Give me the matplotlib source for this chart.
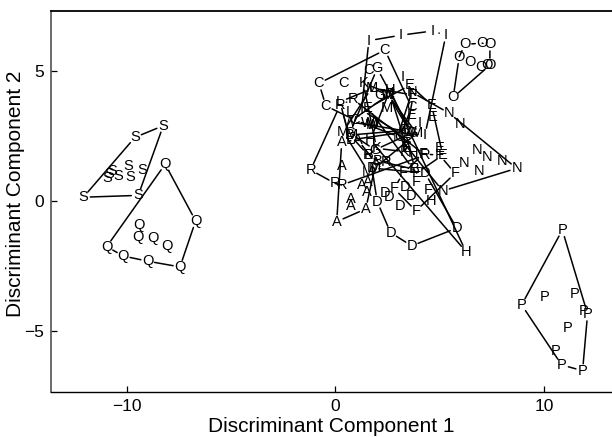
import matplotlib
matplotlib.use("Agg")
import matplotlib.pyplot as plt

plt.rcParams["font.family"] = ["Liberation Sans", "DejaVu Sans"]

# ── Scores, one pair of lists per class ───────────────────────────────────────
S_x = [-8.24, -9.6, -12.07, -9.44, -10.71, -9.92, -9.25, -10.95, -10.4, -9.84, -10.84]
S_y = [2.88, 2.43, 0.13, 0.2, 1.14, 1.34, 1.18, 0.88, 0.96, 0.92, 1.02]
Q_x = [-8.15, -6.69, -7.44, -8.99, -10.16, -10.95, -9.41, -9.47, -8.75, -8.05]
Q_y = [1.4, -0.78, -2.55, -2.33, -2.13, -1.77, -0.94, -1.4, -1.45, -1.73]
P_x = [10.88, 8.93, 10.58, 10.85, 11.85, 12.09, 11.88, 11.49, 10.01, 11.14]
P_y = [-1.13, -4.01, -5.78, -6.32, -6.54, -4.36, -4.23, -3.6, -3.72, -4.91]
O_x = [5.65, 5.94, 6.21, 7.04, 7.41, 7.41, 7.25, 6.97, 6.45]
O_y = [3.97, 5.53, 6.01, 6.05, 6.02, 5.21, 5.21, 5.12, 5.34]
I_x = [1.61, 3.15, 4.65, 5.3, 3.24, 1.26, 4.06, 3.1, 4.3]
I_y = [6.15, 6.36, 6.52, 6.36, 4.75, 3.48, 2.98, 2.6, 2.52]
C_x = [2.38, -0.78, -0.45, 0.38, 1.58, 3.66, 3.1, 0.94]
C_y = [5.79, 4.51, 3.64, 4.51, 5.02, 3.59, 2.44, 3.1]
E_x = [3.58, 3.71, 4.62, 4.68, 1.57, 3.66, 3.42, 5.02, 5.15, 3.39, 3.74, 3.9]
E_y = [4.44, 4.05, 3.67, 3.22, 3.56, 3.29, 2.02, 2.02, 1.75, 2.2, 1.2, 1.06]
N_x = [3.67, 5.46, 5.98, 6.78, 7.28, 6.17, 8.0, 6.89, 8.69, 5.15, 3.0]
N_y = [4.17, 3.36, 2.94, 1.94, 1.69, 1.46, 1.53, 1.14, 1.24, 0.37, 2.5]
F_x = [5.74, 4.22, 3.26, 3.9, 4.46, 2.81, 3.87, 5.0]
F_y = [1.05, 1.79, 1.05, 0.73, 0.41, 0.47, -0.4, 1.75]
D_x = [2.01, 2.65, 3.66, 5.82, 3.34, 3.63, 2.59, 3.1, 2.38, 4.3, 1.76]
D_y = [-0.04, -1.23, -1.74, -1.06, 0.51, 0.18, 0.15, -0.2, 0.29, 1.06, 1.25]
A_x = [0.07, 1.46, 0.74, 0.74, 1.5, 1.58, 1.26, 0.31, 0.31, 1.08, 1.95]
A_y = [-0.81, -0.32, -0.21, 0.06, 0.34, 0.73, 0.6, 1.33, 2.26, 2.33, 1.45]
R_x = [-1.18, -0.01, 0.31, 2.43, 1.58, 0.23, 4.3, 0.85]
R_y = [1.18, 0.66, 0.6, 1.47, 1.75, 3.67, 1.75, 3.9]
H_x = [6.26, 4.57, 3.74, 2.62, 1.68]
H_y = [-1.96, 0.0, 1.82, 4.25, 2.33]
K_x = [1.34, 3.42, 3.34, 1.98, 2.62]
K_y = [4.51, 2.05, 1.88, 2.01, 4.12]
L_x = [3.74, 1.82, 0.23, 0.7, 0.7, 3.42]
L_y = [4.06, 4.32, 3.8, 3.41, 2.33, 2.65]
M_x = [2.46, 1.74, 0.38, 1.58, 1.9, 3.9, 0.79, 2.53, 1.74]
M_y = [3.55, 2.91, 2.65, 1.11, 1.25, 2.59, 2.52, 4.06, 4.33]
W_x = [1.58, 1.82, 0.7, 3.58, 2.54]
W_y = [2.97, 2.91, 3.03, 2.65, 4.06]
G_x = [2.01, 2.14, 0.7, 3.67, 1.9]
G_y = [5.08, 4.05, 2.6, 2.6, 1.95]
B_x = [3.82, 1.58, 2.01, 0.7, 3.34]
B_y = [1.2, 1.75, 1.53, 2.52, 2.7]

CLASSES = {"S": (S_x, S_y), "Q": (Q_x, Q_y), "P": (P_x, P_y), "O": (O_x, O_y),
           "I": (I_x, I_y), "C": (C_x, C_y), "E": (E_x, E_y), "N": (N_x, N_y),
           "F": (F_x, F_y), "D": (D_x, D_y), "A": (A_x, A_y), "R": (R_x, R_y),
           "H": (H_x, H_y), "K": (K_x, K_y), "L": (L_x, L_y), "M": (M_x, M_y),
           "W": (W_x, W_y), "G": (G_x, G_y), "B": (B_x, B_y)}

x_ticks = [-10, 0, 10]
y_ticks = [-5, 0, 5]

# ── Convex hull of one class ──────────────────────────────────────────────────
def convex_hull(xs, ys):
    pts = sorted(set(zip(xs, ys)))
    def half(seq):
        out = []
        for p in seq:
            while len(out) > 1 and ((out[-1][0]-out[-2][0])*(p[1]-out[-2][1])
                                    - (out[-1][1]-out[-2][1])*(p[0]-out[-2][0])) <= 0:
                out.pop()
            out.append(p)
        return out[:-1]
    return half(pts) + half(pts[::-1])

fig = plt.figure(figsize=(6.12, 4.37), dpi=100)
ax = fig.add_axes([51/612, 45/437, 561/612, 381/437])
ax.set_xlim(-13.62, 13.26)
ax.set_ylim(-7.36, 7.29)

for name, (xs, ys) in CLASSES.items():
    for x, y in zip(xs, ys):
        ax.text(x, y, name, fontsize=10.5, ha="center", va="center", color="black")
    hull = convex_hull(xs, ys)
    for a, b in zip(hull, hull[1:] + hull[:1]):
        ax.annotate("", xy=b, xytext=a,
                    arrowprops=dict(arrowstyle="-", color="black", lw=1.1, shrinkA=5, shrinkB=5))

ax.set_xticks(x_ticks)
ax.set_yticks(y_ticks)
ax.tick_params(direction="in", length=4, width=0.9, labelsize=12.5, pad=5)
ax.spines["right"].set_visible(False)
ax.spines["top"].set_linewidth(1.3)
ax.spines["left"].set_linewidth(1.1)
ax.spines["left"].set_color("#444444")
ax.spines["bottom"].set_linewidth(1.0)
ax.set_xlabel("Discriminant Component 1", fontsize=15, labelpad=2)
ax.set_ylabel("Discriminant Component 2", fontsize=15)
ax.yaxis.set_label_coords(-0.047, 0.52)

fig.savefig("out.png", dpi=100)
